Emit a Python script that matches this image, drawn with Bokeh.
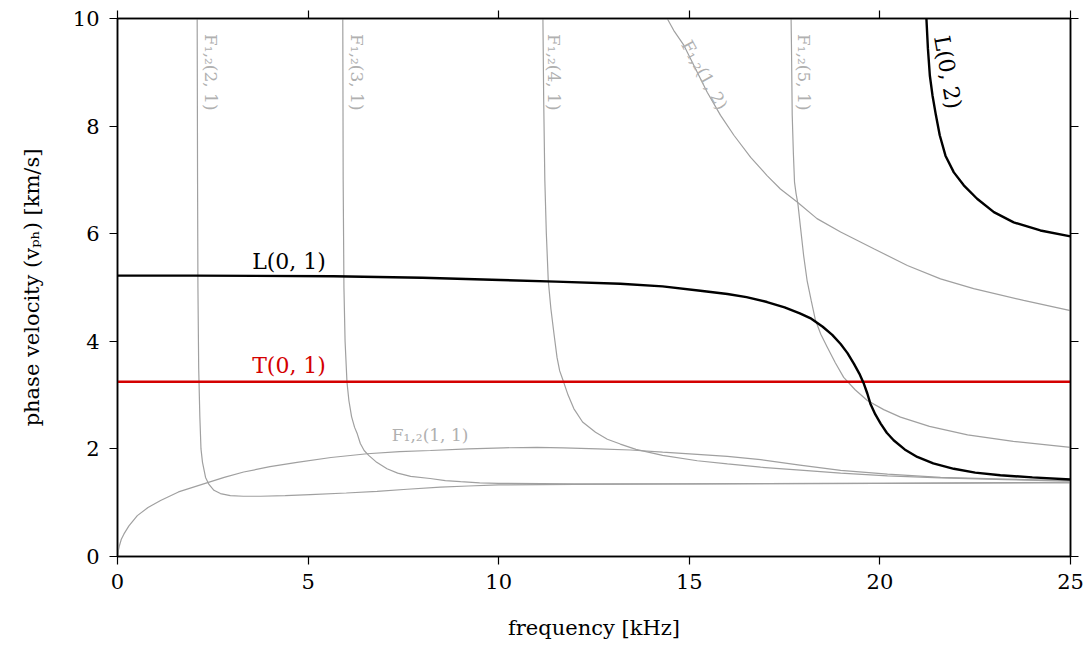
from bokeh.plotting import figure
from bokeh.models import LinearAxis, Range1d, FixedTicker
from bokeh.core.properties import value
from bokeh.embed import file_html
from bokeh.resources import INLINE
import math

# ---------------- data ----------------
x_ticks = [0, 5, 10, 15, 20, 25]
y_ticks = [0, 2, 4, 6, 8, 10]

L01_f = [0.0, 2.0, 5.67, 8.0, 10.05, 11.5, 13.19, 14.3, 15.29, 16.0, 16.5, 17.04, 17.5,
         17.9, 18.2, 18.5, 18.75, 18.97, 19.15, 19.32, 19.46, 19.58, 19.67, 19.75, 19.88,
         20.02, 20.18, 20.36, 20.65, 20.98, 21.4, 21.94, 22.5, 23.16, 24.0, 25.0]
L01_v = [5.22, 5.22, 5.21, 5.18, 5.14, 5.11, 5.07, 5.02, 4.94, 4.88, 4.82, 4.73, 4.63,
         4.52, 4.42, 4.27, 4.12, 3.95, 3.78, 3.58, 3.40, 3.21, 3.03, 2.84, 2.64,
         2.47, 2.30, 2.16, 1.99, 1.85, 1.73, 1.63, 1.56, 1.51, 1.47, 1.43]

L02_f = [21.22, 21.26, 21.31, 21.38, 21.47, 21.57, 21.72, 21.94, 22.20, 22.55, 22.99,
         23.51, 24.21, 25.0]
L02_v = [10.0, 9.44, 8.94, 8.57, 8.20, 7.83, 7.45, 7.14, 6.90, 6.65, 6.40,
         6.21, 6.06, 5.95]

T01_f = [0.0, 25.0]
T01_v = [3.25, 3.25]

F11_f = [0.0, 0.02, 0.05, 0.1, 0.17, 0.3, 0.52, 0.8, 1.13, 1.6, 2.26, 2.8, 3.31, 4.0,
         4.71, 5.6, 6.55, 7.4, 8.21, 9.2, 10.13, 11.0, 11.7, 12.6, 13.46, 14.3, 15.21,
         16.0, 16.87, 17.9, 18.97, 20.2, 21.59, 23.3, 25.0]
F11_v = [0.0, 0.1, 0.2, 0.32, 0.42, 0.57, 0.76, 0.91, 1.04, 1.2, 1.35, 1.47, 1.57, 1.67,
         1.75, 1.84, 1.91, 1.95, 1.97, 2.0, 2.02, 2.03, 2.02, 2.0, 1.98, 1.94, 1.90,
         1.86, 1.80, 1.70, 1.60, 1.53, 1.47, 1.44, 1.41]

F21_f = [2.09, 2.10, 2.11, 2.13, 2.16, 2.19, 2.23, 2.31, 2.40, 2.53, 2.7, 2.96, 3.3,
         3.75, 4.4, 5.06, 6.0, 6.81, 7.6, 8.47, 9.2, 10.0, 12.0, 15.0, 20.0, 25.0]
F21_v = [10.0, 7.0, 5.0, 3.5, 2.6, 2.0, 1.75, 1.47, 1.34, 1.23, 1.17, 1.13, 1.12,
         1.12, 1.13, 1.15, 1.18, 1.21, 1.25, 1.29, 1.31, 1.33, 1.34, 1.35, 1.36, 1.37]

F31_f = [5.91, 5.92, 5.94, 5.97, 6.02, 6.07, 6.14, 6.22, 6.29, 6.37, 6.47, 6.59, 6.8,
         7.07, 7.35, 7.69, 8.2, 8.6, 9.0, 9.5, 10.0, 12.0, 15.0, 20.0, 25.0]
F31_v = [10.0, 7.0, 5.0, 4.0, 3.24, 2.9, 2.6, 2.4, 2.28, 2.1, 1.97, 1.88, 1.75,
         1.63, 1.55, 1.49, 1.45, 1.41, 1.39, 1.37, 1.36, 1.35, 1.35, 1.36, 1.38]

F41_f = [11.16, 11.18, 11.21, 11.25, 11.3, 11.37, 11.45, 11.53, 11.6, 11.69, 11.82,
         11.97, 12.2, 12.54, 12.85, 13.19, 13.6, 14.3, 15.21, 16.0, 16.87, 18.0, 18.97,
         20.2, 21.59, 23.3, 25.0]
F41_v = [10.0, 8.5, 7.0, 6.0, 5.13, 4.6, 4.14, 3.7, 3.45, 3.27, 3.0,
         2.75, 2.5, 2.31, 2.18, 2.09, 1.99, 1.88, 1.78, 1.72, 1.66, 1.60, 1.55,
         1.50, 1.46, 1.43, 1.40]

F51_f = [17.67, 17.68, 17.70, 17.73, 17.76, 17.80, 17.85, 17.92, 18.0, 18.09, 18.2,
         18.31, 18.45, 18.62, 18.83, 19.05, 19.35, 19.67, 20.1, 20.54, 21.3, 22.3,
         23.5, 25.0]
F51_v = [10.0, 9.5, 8.2, 7.5, 6.96, 6.75, 6.55, 6.1, 5.59, 5.13, 4.75,
         4.39, 4.13, 3.89, 3.6, 3.33, 3.1, 2.90, 2.73, 2.59, 2.42, 2.26,
         2.14, 2.03]

F12_f = [14.42, 14.59, 14.86, 15.16, 15.47, 15.82, 16.17, 16.61, 17.04, 17.39, 17.83,
         18.35, 18.97, 19.84, 20.72, 21.59, 22.46, 23.77, 25.0]
F12_v = [10.0, 9.78, 9.50, 9.07, 8.63, 8.20, 7.83, 7.42, 7.08, 6.83, 6.59,
         6.28, 6.03, 5.72, 5.41, 5.16, 4.98, 4.76, 4.57]

# ---------------- figure ----------------
FONT = "DejaVu Serif"
BLACK = "#000000"
RED = "#d40000"
GRAY = "#a0a0a0"
GRAY_TXT = "#b0b0b0"

p = figure(frame_width=953, frame_height=538,
           x_range=Range1d(0, 25), y_range=Range1d(0, 10),
           output_backend="svg", toolbar_location=None,
           x_axis_location=None, y_axis_location=None,
           min_border_left=117, min_border_right=18,
           min_border_top=18, min_border_bottom=94)
p.background_fill_color = "white"
p.border_fill_color = "white"
p.outline_line_color = BLACK
p.outline_line_width = 1.5
p.xgrid.visible = False
p.ygrid.visible = False


def make_axis(ticks, labels=True):
    ax = LinearAxis(ticker=FixedTicker(ticks=ticks))
    ax.axis_line_color = BLACK
    ax.axis_line_width = 1.5
    ax.major_tick_line_color = BLACK
    ax.major_tick_line_width = 1.2
    ax.major_tick_out = 8
    ax.major_tick_in = 0
    ax.minor_tick_line_color = None
    ax.major_label_text_font = FONT
    ax.major_label_text_font_size = "21px"
    ax.major_label_text_color = BLACK
    ax.axis_label_text_font = FONT
    ax.axis_label_text_font_size = "21px"
    ax.axis_label_text_font_style = "normal"
    ax.axis_label_text_color = BLACK
    if not labels:
        ax.major_label_overrides = {t: "" for t in ticks}
        ax.major_label_standoff = 0
    return ax


xb = make_axis(x_ticks)
xb.axis_label = "frequency [kHz]"
xb.major_label_standoff = 9
xb.axis_label_standoff = 24
p.add_layout(xb, "below")

yl = make_axis(y_ticks)
yl.axis_label = "phase velocity (vₚₕ) [km/s]"
yl.major_label_standoff = 10
yl.axis_label_standoff = 26
p.add_layout(yl, "left")

xt = make_axis(x_ticks, labels=False)
p.add_layout(xt, "above")
yr = make_axis(y_ticks, labels=False)
p.add_layout(yr, "right")

# ---------------- curves ----------------
for fx, vy in [(F11_f, F11_v), (F21_f, F21_v), (F31_f, F31_v), (F41_f, F41_v),
               (F51_f, F51_v), (F12_f, F12_v)]:
    p.line(fx, vy, line_color=GRAY, line_width=1.2)

p.line(T01_f, T01_v, line_color=RED, line_width=2.5)
p.line(L01_f, L01_v, line_color=BLACK, line_width=2.4)
p.line(L02_f, L02_v, line_color=BLACK, line_width=2.4)

# ---------------- labels ----------------
p.text(x=[4.5], y=[5.48], text=["L(0, 1)"], text_color=BLACK,
       text_font=value(FONT), text_font_size="22px",
       text_align="center", text_baseline="middle")
p.text(x=[4.5], y=[3.55], text=["T(0, 1)"], text_color=RED,
       text_font=value(FONT), text_font_size="22px",
       text_align="center", text_baseline="middle")

p.text(x=[8.2], y=[2.25], text=["F₁,₂(1, 1)"], text_color=GRAY_TXT,
       text_font=value(FONT), text_font_size="17px",
       text_align="center", text_baseline="middle")

vert_x = [2.44, 6.27, 11.44, 18.0]
vert_y = [9.0, 9.0, 9.0, 9.0]
vert_t = ["F₁,₂(2, 1)", "F₁,₂(3, 1)", "F₁,₂(4, 1)", "F₁,₂(5, 1)"]
p.text(x=vert_x, y=vert_y, text=vert_t, angle=-math.pi / 2, text_color=GRAY_TXT,
       text_font=value(FONT), text_font_size="17px",
       text_align="center", text_baseline="middle")

p.text(x=[15.4], y=[8.95], text=["F₁,₂(1, 2)"], angle=math.radians(-61),
       text_color=GRAY_TXT, text_font=value(FONT), text_font_size="17px",
       text_align="center", text_baseline="middle")

p.text(x=[21.78], y=[9.0], text=["L(0, 2)"], angle=math.radians(-80),
       text_color=BLACK, text_font=value(FONT), text_font_size="22px",
       text_align="center", text_baseline="middle")

open("out.html", "w").write(file_html(p, INLINE))
